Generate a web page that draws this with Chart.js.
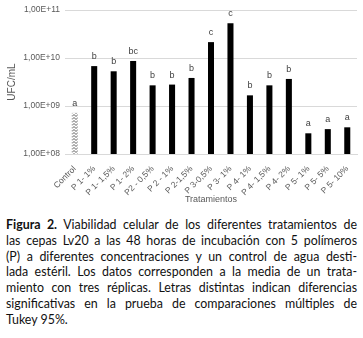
<!DOCTYPE html>
<html>
<head>
<meta charset="utf-8">
<script src="https://cdn.jsdelivr.net/npm/chart.js@4/dist/chart.umd.min.js"></script>
<style>
  body { margin: 0; background: #fff; width: 363px; height: 338px; overflow: hidden; }
  #wrap { position: relative; width: 363px; height: 217px; }
  #caption { font-family: Lato, "Open Sans", sans-serif; font-size: 12.4px; color: #111;
             margin: 0 6px 0 6px; line-height: 15.8px; }
  #caption div { text-align: justify; text-align-last: justify; white-space: nowrap; }
  #caption div.last { text-align-last: left; }
</style>
</head>
<body>
<div id="wrap"><canvas id="grafico"></canvas></div>
<div id="caption">
  <div><b>Figura 2.</b> Viabilidad celular de los diferentes tratamientos de</div>
  <div>las cepas Lv20 a las 48 horas de incubación con 5 polímeros</div>
  <div>(P) a diferentes concentraciones y un control de agua desti-</div>
  <div>lada estéril. Los datos corresponden a la media de un trata-</div>
  <div>miento con tres réplicas. Letras distintas indican diferencias</div>
  <div>significativas en la prueba de comparaciones múltiples de</div>
  <div class="last">Tukey 95%.</div>
</div>
<script>
var tratamientos = ['Control','P 1- 1%','P 1- 1,5%','P 1- 2%','P2 - 0,5%','P 2 - 1%','P 2-1,5%','P 3-0,5%','P 3- 1%','P 4- 1%','P 4- 1,5%','P 4- 2%','P 5- 1%','P 5- 5%','P 5- 10%'];
var ufc = [7.2e8, 6.8e9, 5.3e9, 8.7e9, 2.7e9, 2.8e9, 3.85e9, 2.15e10, 5.35e10, 1.67e9, 2.7e9, 3.67e9, 2.7e8, 3.3e8, 3.6e8];
var letras = ['a','b','b','bc','b','b','b','c','c','b','b','b','a','a','a'];
var yTicks = [1e8, 1e9, 1e10, 1e11];

// zigzag pattern for the control bar
var pc = document.createElement('canvas');
pc.width = 8; pc.height = 3;
var px = pc.getContext('2d');
px.fillStyle = '#fff'; px.fillRect(0, 0, 8, 3);
px.strokeStyle = '#333'; px.lineWidth = 0.8;
px.beginPath(); px.moveTo(0, 2.5); px.lineTo(2, 0.5); px.lineTo(4, 2.5); px.lineTo(6, 0.5); px.lineTo(8, 2.5); px.stroke();
var patron = document.createElement('canvas').getContext('2d').createPattern(pc, 'repeat');

var colores = tratamientos.map(function (t, i) { return i === 0 ? patron : '#000'; });

var etiquetas = {
  id: 'etiquetas',
  afterDatasetsDraw: function (chart) {
    var ctx = chart.ctx;
    var meta = chart.getDatasetMeta(0);
    ctx.save();
    ctx.font = '9px "Liberation Sans", Arial, sans-serif';
    ctx.fillStyle = '#404040';
    ctx.textAlign = 'center';
    ctx.textBaseline = 'bottom';
    meta.data.forEach(function (bar, i) {
      ctx.fillText(letras[i], bar.x, bar.y - 5);
    });
    ctx.restore();
  }
};

var ctx = document.getElementById('grafico').getContext('2d');
var grafico = new Chart(ctx, {
  type: 'bar',
  data: {
    labels: tratamientos,
    datasets: [{
      label: 'UFC/mL',
      data: ufc,
      backgroundColor: colores,
      barPercentage: 0.31,
      categoryPercentage: 1
    }]
  },
  options: {
    responsive: true,
    maintainAspectRatio: false,
    animation: false,
    layout: { padding: { top: 9, right: 6, left: 0, bottom: 0 } },
    plugins: { legend: { display: false }, tooltip: { enabled: false } },
    scales: {
      x: {
        grid: { display: false },
        border: { display: true, color: '#d9d9d9' },
        ticks: { color: '#595959', font: { size: 8.5, family: '"Liberation Sans", Arial, sans-serif' },
                 minRotation: 45, maxRotation: 45, padding: 2 },
        title: { display: true, text: 'Tratamientos', color: '#595959',
                 font: { size: 9, family: '"Liberation Sans", Arial, sans-serif' }, padding: { top: 0, bottom: 12 } },
        afterFit: function (s) { s.height = 63; }
      },
      y: {
        type: 'logarithmic',
        min: 1e8,
        max: 1e11,
        afterBuildTicks: function (s) { s.ticks = yTicks.map(function (v) { return { value: v }; }); },
        grid: { color: '#d9d9d9', drawTicks: false },
        border: { display: false },
        ticks: {
          color: '#595959', padding: 5,
          font: { size: 8.5, family: '"Liberation Sans", Arial, sans-serif' },
          callback: function (v) { return '1,00E+' + String(Math.round(Math.log10(v))).padStart(2, '0'); }
        },
        title: { display: true, text: 'UFC/mL', color: '#595959',
                 font: { size: 10, family: '"Liberation Sans", Arial, sans-serif' }, padding: { top: 6, bottom: 4 } },
        afterFit: function (s) { s.width = 65; }
      }
    }
  },
  plugins: [etiquetas]
});
</script>
</body>
</html>
